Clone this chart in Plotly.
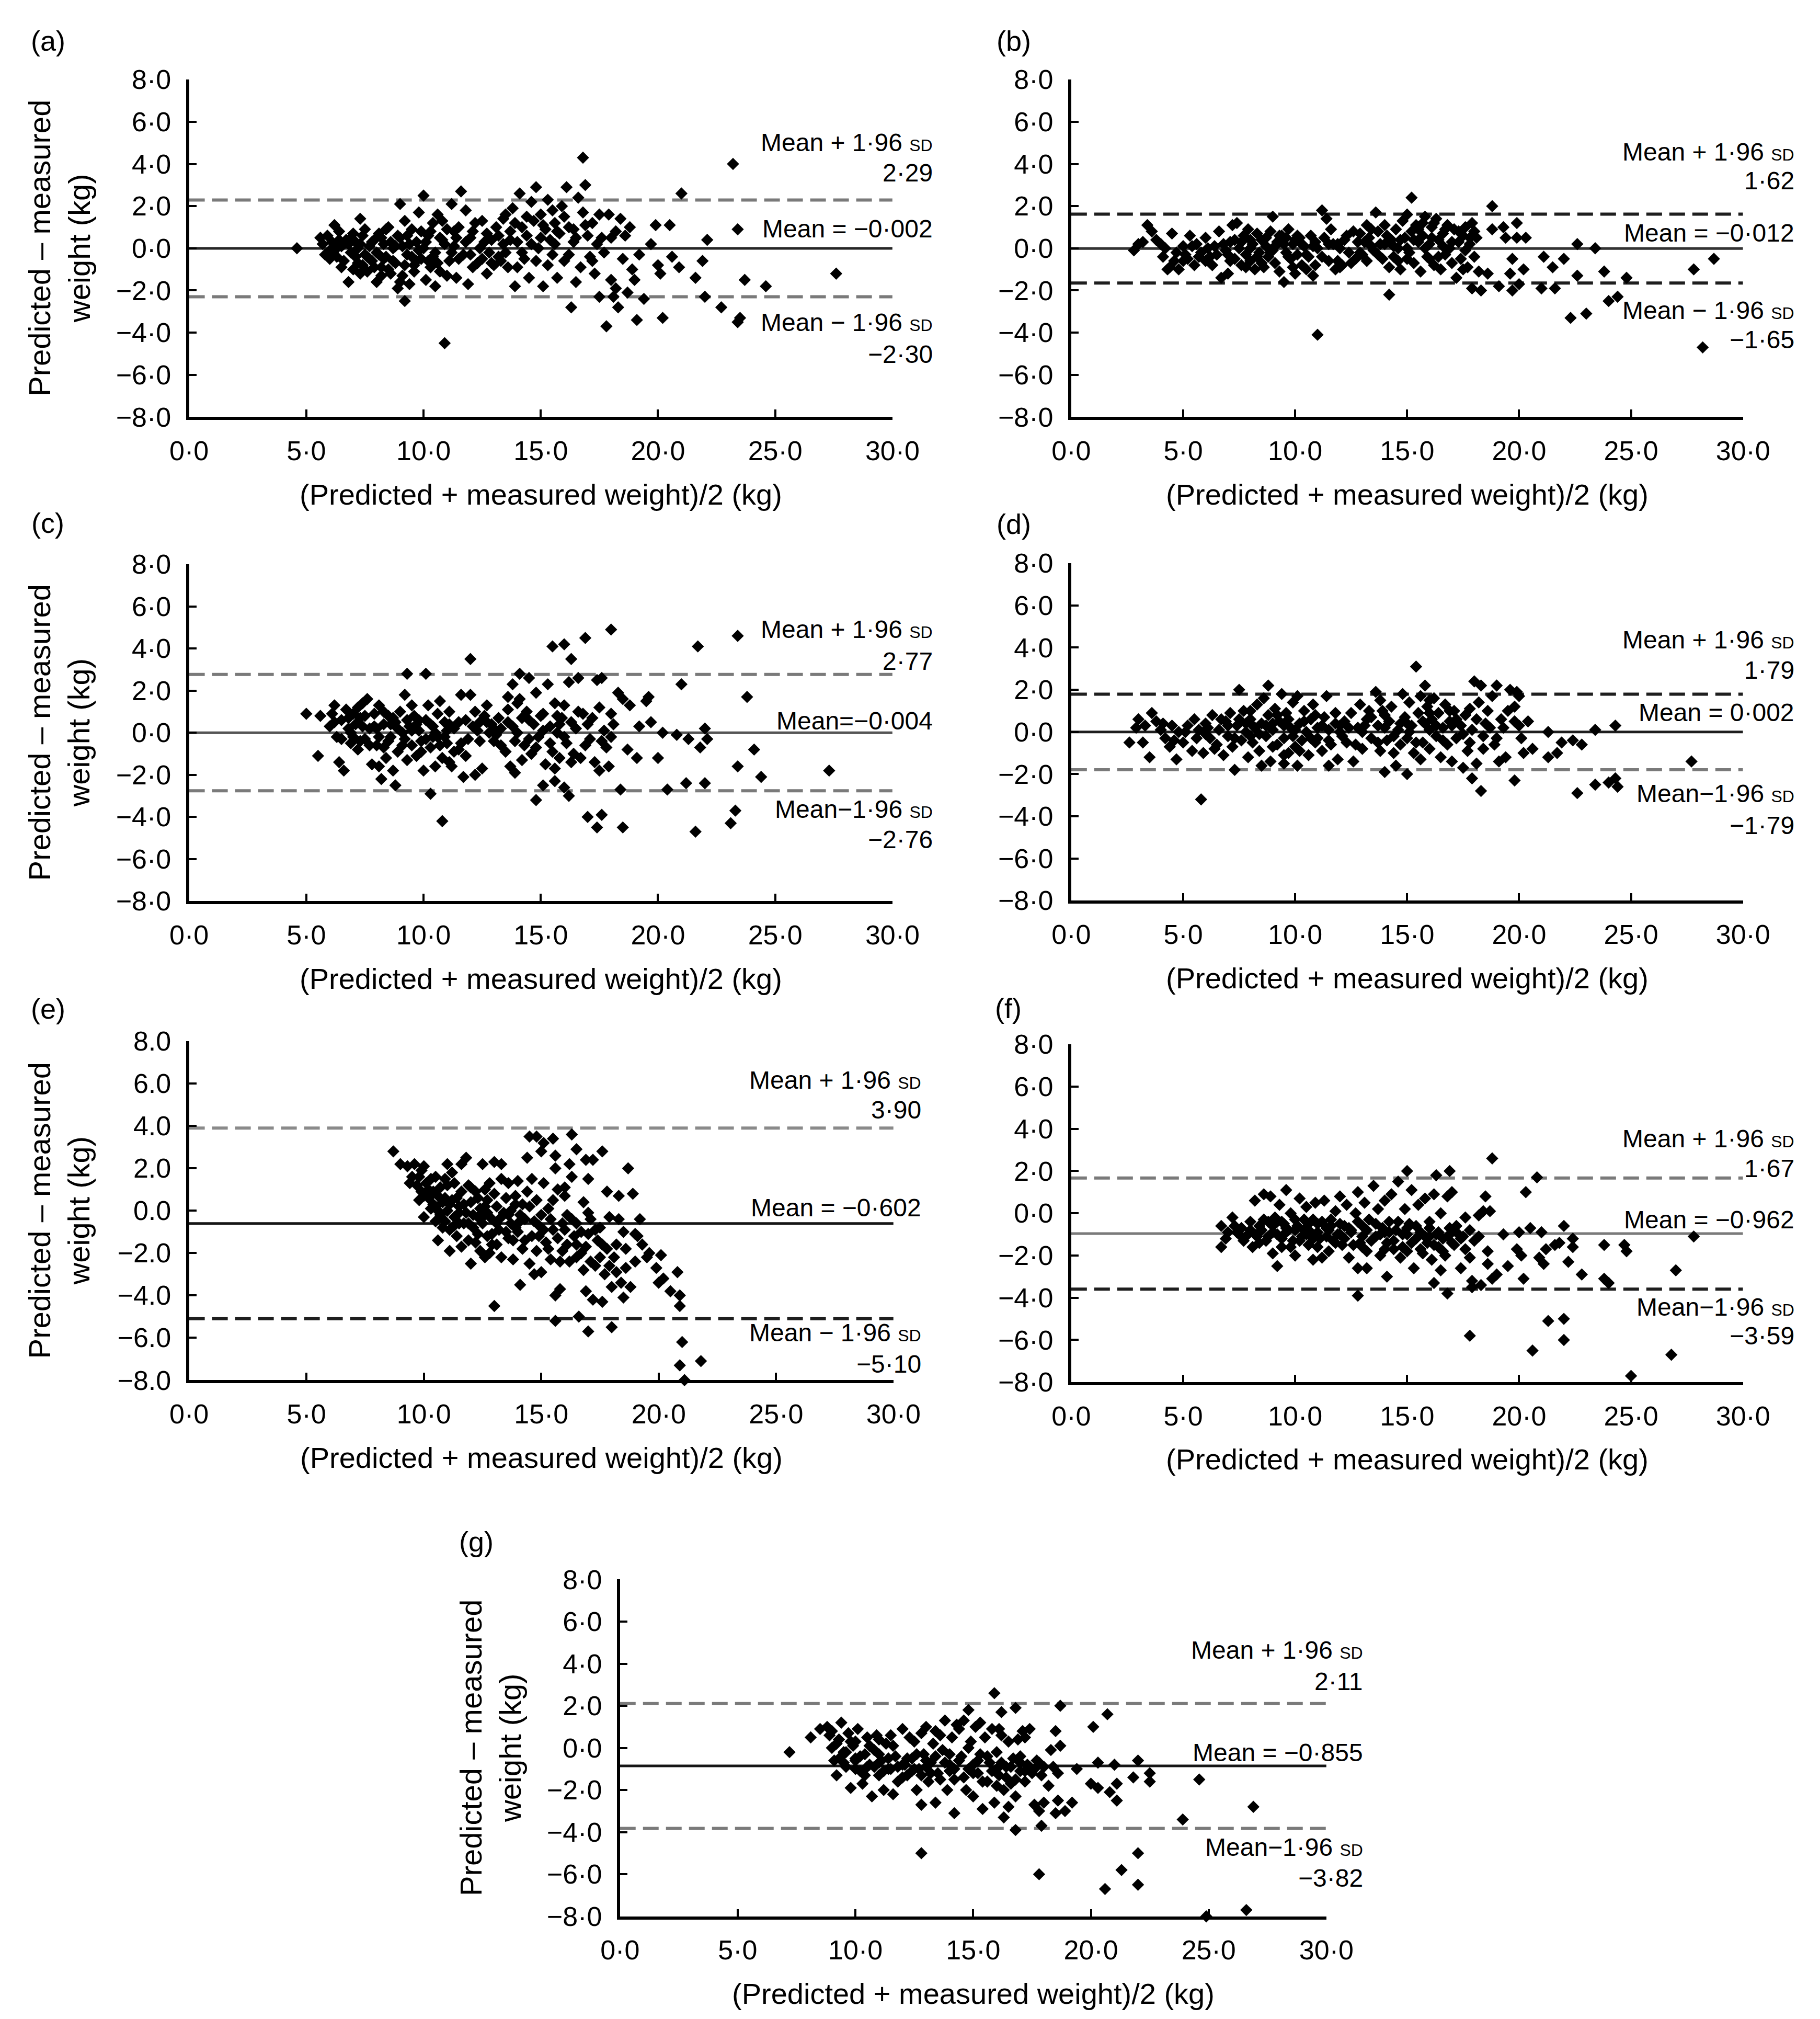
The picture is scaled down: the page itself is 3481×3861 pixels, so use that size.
import plotly.graph_objects as go

W, H = 3481, 3861

# ---------------- data ----------------
PANELS = ["a", "b", "c", "d", "e", "f", "g"]
MEANS = [-0.002, -0.012, -0.004, 0.002, -0.602, -0.962, -0.855]
UPPER = [2.29, 1.62, 2.77, 1.79, 3.90, 1.67, 2.11]
LOWER = [-2.30, -1.65, -2.76, -1.79, -5.10, -3.59, -3.82]
MEAN_TXT = ["Mean = \u22120\u00b7002", "Mean = \u22120\u00b7012", "Mean=\u22120\u00b7004", "Mean = 0\u00b7002",
            "Mean = \u22120\u00b7602", "Mean = \u22120\u00b7962", "Mean = \u22120\u00b7855"]
UP_TXT = ["2\u00b729", "1\u00b762", "2\u00b777", "1\u00b779", "3\u00b790", "1\u00b767", "2\u00b711"]
LO_TXT = ["\u22122\u00b730", "\u22121\u00b765", "\u22122\u00b776", "\u22121\u00b779", "\u22125\u00b710", "\u22123\u00b759", "\u22123\u00b782"]
LO_LABEL = ["Mean \u2212 1\u00b796", "Mean \u2212 1\u00b796", "Mean\u22121\u00b796", "Mean\u22121\u00b796",
            "Mean \u2212 1\u00b796", "Mean\u22121\u00b796", "Mean\u22121\u00b796"]
X_TICKS = [0, 5, 10, 15, 20, 25, 30]
X_TICKTEXT = ["0\u00b70", "5\u00b70", "10\u00b70", "15\u00b70", "20\u00b70", "25\u00b70", "30\u00b70"]
Y_TICKS = [8, 6, 4, 2, 0, -2, -4, -6, -8]
Y_TICKTEXT = ["8\u00b70", "6\u00b70", "4\u00b70", "2\u00b70", "0\u00b70", "\u22122\u00b70", "\u22124\u00b70", "\u22126\u00b70", "\u22128\u00b70"]
Y_TICKTEXT_E = ["8.0", "6.0", "4.0", "2.0", "0.0", "\u22122.0", "\u22124.0", "\u22126.0", "\u22128.0"]

A_PTS = [(4.6,0.0),(5.6,0.5),(5.7,0.2),(5.8,-0.3),(5.9,0.6),(6.0,-0.1),(6.1,0.3),(6.2,1.1),(6.3,-0.4),(6.4,0.8),
(6.5,0.1),(6.0,-0.5),(6.6,-0.6),(6.7,0.4),(6.8,-1.6),(6.9,-0.2),(7.0,-1.0),(7.1,0.3),(7.2,-0.7),(7.3,1.4),
(7.4,0.6),(7.5,-0.3),(7.5,0.9),(7.6,-1.1),(7.7,0.1),(7.8,-0.6),(7.9,0.4),(8.0,-1.6),(8.0,-0.2),(8.1,0.7),
(8.2,-0.9),(8.3,0.2),(8.4,-0.4),(8.5,1.0),(8.6,-1.2),(8.7,0.0),(8.8,-0.7),(8.9,-1.9),(9.0,2.1),(9.0,0.5),
(9.1,-1.3),(9.2,-2.5),(9.2,1.3),(9.3,-0.3),(9.4,-1.7),(9.5,0.9),(9.6,-0.8),(9.7,0.3),(9.8,1.7),(9.9,-0.5),
(10.0,2.5),(10.0,0.0),(10.1,-1.5),(10.2,0.6),(10.3,-0.9),(10.4,1.2),(10.5,-0.2),(10.6,1.6),(10.7,-1.1),(10.8,0.4),
(10.9,-4.5),(11.0,0.9),(11.1,-0.6),(11.2,2.1),(11.3,0.1),(11.4,-1.4),(11.5,1.0),(11.6,2.7),(11.7,-0.3),(11.8,1.8),
(11.9,-1.7),(12.0,0.5),(12.1,-0.9),(12.2,1.2),(12.4,0.0),(12.5,-0.5),(12.7,0.7),(12.8,-0.2),(12.9,0.4),(13.0,-0.8),
(13.1,1.0),(13.2,-0.4),(13.4,0.2),(13.5,1.6),(13.6,-0.9),(13.7,0.8),(13.8,1.9),(13.9,-1.8),(14.0,0.3),(14.1,2.6),
(14.2,1.0),(14.3,-0.5),(14.4,0.6),(14.5,-1.4),(14.6,2.2),(14.7,1.3),(14.8,2.9),(14.9,0.0),(15.0,1.6),(15.1,-1.8),
(15.2,0.9),(15.3,2.3),(15.4,0.4),(15.5,-0.3),(15.6,1.2),(15.7,-1.4),(15.8,0.7),(15.9,2.0),(16.0,-0.6),(16.1,2.9),
(16.2,1.0),(16.3,-2.8),(16.4,0.3),(16.5,-1.6),(16.6,2.4),(16.7,-0.9),(16.8,1.7),(16.8,4.3),(16.9,3.0),(17.0,0.6),
(17.1,-0.4),(17.2,1.2),(17.3,-1.2),(17.5,-2.3),(17.6,0.5),(17.7,-0.2),(17.8,-3.7),(17.9,1.6),(18.0,-1.5),(18.1,-2.3),
(18.2,0.8),(18.3,-2.8),(18.4,1.4),(18.5,-0.5),(18.7,-2.1),(18.8,1.0),(18.9,-1.0),(19.1,-3.4),(19.2,-0.3),(19.4,-2.4),
(19.7,0.2),(19.9,1.1),(20.0,-0.8),(20.1,-1.2),(20.2,-3.3),(20.5,1.1),(20.6,-0.4),(20.9,-0.9),(21.0,2.6),(21.6,-1.4),
(21.9,-0.6),(22.0,-2.3),(22.1,0.4),(22.7,-2.8),(23.2,4.0),(23.4,0.9),(23.4,-3.5),(23.5,-3.3),(23.7,-1.5),(24.6,-1.8),
(27.6,-1.2),(6.3,0.0),(6.8,0.2),(7.2,0.0),(7.8,0.3),(8.3,-0.5),(8.8,0.1),(9.3,0.6),(9.8,-0.1),(10.4,-0.4),
(10.9,0.2),(11.4,0.5),(12.0,-0.3),(12.6,0.3),(7.0,0.7),(8.5,-1.0),(9.6,-1.1),(11.0,-1.3),(6.5,-0.9),(7.6,-0.4),
(10.8,1.3),(13.3,-0.6),(14.2,-0.2),(15.0,0.5),(15.6,0.2),(16.4,0.9),(17.4,0.2),(14.8,-0.6),(13.7,0.4),
(6.1,-0.2),(6.4,0.4),(6.6,0.2),(6.9,0.5),(7.1,-0.4),(7.3,0.2),(7.4,-0.8),(7.7,-0.5),(7.9,-0.9),(8.1,-0.3),
(8.2,0.5),(8.4,0.9),(8.6,0.3),(8.7,-0.6),(8.9,0.6),(9.1,0.1),(9.2,-0.8),(9.4,0.2),(9.5,-0.4),(9.7,-0.6),
(9.9,0.8),(10.1,0.3),(10.2,-0.6),(10.3,0.8),(10.6,-0.7),(10.7,0.5),(11.2,-0.2),(11.3,0.8),(11.5,-0.5),(11.8,0.3),
(12.1,0.8),(12.3,-0.7),(12.5,1.3),(12.9,-0.7),(13.2,0.6),(13.5,-0.2),(13.9,1.2),(14.0,-0.9),(14.4,1.5),(14.6,0.2),
(15.1,1.1),(15.3,-0.8),(15.7,0.8),(16.0,1.5),(16.2,-0.3),(16.5,0.5),(16.9,1.1),(17.2,-0.6),(17.5,1.6),(18.0,0.5),
(18.6,0.6),(19.0,-1.5),(18.2,-1.9),(9.0,-1.6),(8.2,-1.3),(7.3,-1.2),(10.5,-1.8),(12.7,-1.2),(13.4,1.4),(15.5,1.8)]

B_PTS = [(11.0,-4.1),(28.2,-4.7),(28.7,-0.5),(27.8,-1.0),(15.2,2.4),(18.8,2.0),(11.2,1.8),(14.2,-2.2),(22.3,-3.3),(23.0,-3.1),
(24.0,-2.5),(24.4,-2.3),(24.8,-1.4),(23.8,-1.1),(22.6,-1.3),(22.6,0.2),(23.4,0.0),(22.0,-0.5),(21.5,-0.9),(21.1,-0.4),
(21.6,-1.9),(21.0,-1.9),(20.2,-1.0),(20.0,-1.7),(19.7,-2.0),(19.9,0.5),(20.3,0.5),(19.9,1.2),(19.3,1.0),(19.1,-1.8),
(18.3,-2.0),(17.9,-1.9),(18.6,-1.2),(18.8,0.9),(19.7,-0.5),(19.6,-1.2),(19.4,0.5),
(2.8,-0.1),(3.0,0.2),(3.2,0.3),(3.4,1.1),(3.6,0.8),(3.8,0.4),(4.0,0.2),(4.1,-0.4),(4.3,-1.0),(4.5,0.7),
(4.6,-0.6),(4.8,-1.0),(5.0,0.1),(5.1,-0.3),(5.3,0.6),(5.5,-0.8),(5.6,0.2),(5.8,-0.2),(6.0,0.5),(6.2,-0.4),
(6.4,0.1),(6.6,0.8),(6.7,-1.4),(6.9,-0.1),(7.0,-1.2),(7.1,0.3),(7.2,1.1),(7.3,-0.5),(7.4,1.2),(7.5,0.0),
(7.6,-0.8),(7.7,0.6),(7.8,-0.3),(7.9,0.9),(8.0,-0.6),(8.1,0.2),(8.2,-1.0),(8.3,0.7),(8.4,-0.2),(8.5,0.4),
(8.6,-0.9),(8.7,0.1),(8.8,-0.4),(8.9,0.8),(9.0,1.5),(9.1,-0.7),(9.2,0.3),(9.3,-1.1),(9.4,0.6),(9.5,-1.6),
(9.6,-0.2),(9.7,0.9),(9.8,-0.5),(9.9,0.2),(10.0,-1.2),(10.1,-0.3),(10.2,0.5),(10.3,-0.8),(10.4,0.1),(10.5,-1.0),
(10.6,-0.4),(10.8,-1.3),(10.9,0.3),(11.3,0.5),(11.4,1.4),(11.5,-0.6),(11.6,0.9),(11.8,-1.0),(11.9,0.2),(12.1,-0.8),
(12.2,0.4),(12.4,-0.2),(12.6,0.8),(12.8,0.3),(13.0,-0.3),(13.2,1.1),(13.3,0.5),(13.5,-0.1),(13.6,1.7),(13.7,0.8),
(13.8,0.2),(13.9,-0.5),(14.0,1.1),(14.2,-0.9),(14.3,0.4),(14.4,-0.4),(14.5,0.9),(14.6,0.0),(14.7,-1.0),(14.8,1.3),
(14.9,0.5),(15.0,1.6),(15.1,-0.2),(15.2,0.8),(15.3,-0.7),(15.4,1.1),(15.5,0.3),(15.6,-1.1),(15.7,0.6),(15.8,1.5),
(15.9,-0.4),(16.0,0.2),(16.1,1.0),(16.2,-0.8),(16.3,1.4),(16.4,0.4),(16.5,-1.0),(16.6,0.7),(16.7,-0.3),(16.8,1.1),
(16.9,0.0),(17.0,-0.7),(17.1,0.9),(17.2,-1.4),(17.3,0.3),(17.4,-0.5),(17.5,0.6),(17.6,1.0),(17.7,-0.9),(17.8,0.2),
(17.9,1.2),(18.0,-0.4),(18.1,0.5),(18.2,-1.1),(17.6,-0.1),(16.0,-0.5),(15.0,0.0),(14.0,0.2),(12.0,0.0),(11.0,0.0),
(10.7,0.6),(9.0,-0.1),(8.0,0.0),(7.0,-0.3),(6.0,-0.6),(5.0,-0.6),(4.4,-0.9),(12.7,-0.5),(13.4,0.1),(15.6,0.5),
(16.6,0.1),(11.7,0.2),(10.0,0.4),(12.9,0.7),
(4.2,0.0),(4.7,-0.2),(5.2,-0.5),(5.4,0.1),(5.7,-0.4),(6.1,0.0),(6.3,-0.8),(6.5,-0.3),(6.8,0.2),(7.1,-0.6),
(7.3,0.4),(7.6,0.3),(7.8,-0.9),(8.0,0.4),(8.3,-0.4),(8.5,-0.7),(8.7,0.5),(8.9,-0.2),(9.1,0.1),(9.3,0.6),
(9.5,0.2),(9.7,-0.4),(9.9,-0.9),(10.1,0.6),(10.3,0.2),(10.5,-0.3),(10.8,0.1),(11.2,-0.4),(11.5,0.2),(11.9,-0.6),
(12.3,0.6),(12.5,-0.7),(12.9,-0.2),(13.1,0.3),(13.4,0.9),(13.7,-0.3),(14.1,0.6),(14.4,0.1),(14.7,0.4),(15.0,-0.5),
(15.3,0.4),(15.5,0.9),(15.8,0.0),(16.1,0.5),(16.4,-0.4),(16.7,0.9),(17.0,0.3),(17.3,0.8),(17.5,-1.0),(17.8,0.5),
(18.0,0.8),(16.2,1.2),(15.7,1.2),(14.6,-0.6),(13.2,-0.6),(12.0,-0.9),(10.9,-0.8),(9.6,0.5)]

C_PTS = [(12.0,3.5),(9.3,2.8),(10.1,2.8),(15.5,4.1),(16.0,4.2),(16.3,3.5),(16.9,4.5),(18.0,4.9),(23.4,4.6),(21.7,4.1),
(21.0,2.3),(23.8,1.7),(14.1,2.8),(16.6,2.6),(17.6,2.6),(17.4,2.5),(8.8,-2.5),(10.3,-2.9),(10.8,-4.2),(14.8,-3.2),
(15.1,-2.5),(15.6,-2.3),(16.0,-2.6),(16.2,-3.0),(17.0,-4.0),(17.4,-4.5),(17.6,-3.9),(18.5,-4.5),(18.4,-2.7),(20.4,-2.7),
(21.2,-2.4),(22.0,-2.4),(21.6,-4.7),(23.1,-4.3),(23.3,-3.7),(23.4,-1.6),(24.4,-2.1),(27.3,-1.8),(24.1,-0.8),(22.0,0.2),
(22.1,-0.3),(21.8,-0.7),(21.3,-0.3),(20.8,-0.1),(20.2,0.0),(20.0,-1.2),(19.7,0.5),(19.6,1.7),(19.5,1.5),(19.1,-1.2),
(19.2,0.3),(18.7,-0.8),(18.8,1.3),(18.5,1.6),(18.3,1.9),(18.1,0.4),(17.9,-1.6),(17.5,-1.8),
(5.0,0.9),(5.5,-1.1),(5.6,0.8),(6.0,0.3),(6.1,0.9),(6.2,1.3),(6.3,-0.2),(6.4,-1.4),(6.5,0.6),(6.6,-1.8),
(6.7,1.1),(6.8,0.2),(6.9,-0.5),(7.0,0.9),(7.1,0.4),(7.2,-0.8),(7.3,0.7),(7.4,1.4),(7.5,-0.3),(7.6,1.6),
(7.7,0.2),(7.8,-1.5),(7.9,0.9),(8.0,-0.6),(8.1,1.3),(8.2,-2.2),(8.3,0.4),(8.4,-1.2),(8.5,0.8),(8.6,-0.2),
(8.7,-1.8),(8.8,0.5),(8.9,-0.9),(9.0,1.0),(9.1,0.0),(9.2,1.8),(9.3,-1.3),(9.4,0.3),(9.5,-0.6),(9.6,0.8),
(9.7,-1.1),(9.8,0.1),(9.9,-0.4),(10.0,-1.8),(10.1,0.6),(10.2,1.3),(10.3,-0.7),(10.4,0.3),(10.5,-1.6),(10.6,-0.2),
(10.7,1.5),(10.8,-1.2),(10.9,0.5),(11.0,-0.5),(11.1,1.0),(11.2,-1.6),(11.3,0.2),(11.5,-0.8),(11.6,1.8),(11.7,-2.1),
(11.8,0.6),(11.9,-0.3),(12.0,1.8),(12.2,-2.0),(12.3,0.1),(12.5,-1.7),(12.6,0.8),(12.7,1.3),(12.9,0.4),(13.0,-0.4),
(13.2,0.7),(13.3,0.2),(13.5,-0.9),(13.6,1.7),(13.7,-1.6),(13.8,2.3),(13.9,-1.9),(14.0,0.0),(14.1,1.6),(14.2,0.7),
(14.3,-0.6),(14.4,1.0),(14.5,2.6),(14.6,-1.0),(14.7,0.4),(14.8,1.9),(14.9,-0.2),(15.0,0.8),(15.2,-1.5),(15.3,2.3),
(15.4,0.3),(15.5,-0.9),(15.6,1.4),(15.7,0.0),(15.8,-1.2),(15.9,0.7),(16.0,1.3),(16.1,-0.5),(16.2,2.4),(16.4,-1.0),
(16.5,0.2),(16.7,-1.2),(16.8,0.9),(17.0,0.4),(17.1,-0.3),(17.3,-1.4),(17.5,1.2),(17.7,0.1),(17.8,-0.7),(18.0,0.9),
(6.9,0.0),(7.4,0.3),(8.0,0.2),(8.6,0.4),(9.2,-0.3),(9.8,0.6),(10.4,-0.2),(11.0,0.1),(11.6,-0.5),(12.4,0.5),
(13.1,-0.1),(13.8,0.3),(14.5,-0.3),(15.1,0.1),(16.3,0.5),(7.3,-0.4),(8.3,-0.7),(10.6,0.9),(12.8,0.0),(15.8,0.4),
(6.2,0.5),(6.5,-0.3),(6.8,0.7),(7.0,-0.2),(7.2,0.5),(7.5,0.8),(7.7,-0.6),(7.9,0.3),(8.1,-0.2),(8.3,1.0),
(8.5,-0.4),(8.7,0.7),(8.9,0.2),(9.1,-0.6),(9.3,0.6),(9.5,0.1),(9.7,0.4),(9.9,-0.9),(10.1,-0.3),(10.3,0.4),
(10.5,0.0),(10.7,-0.6),(10.9,-0.2),(11.1,0.4),(11.3,-0.9),(11.5,0.5),(11.8,-1.1),(12.1,0.3),(12.4,-0.4),(12.7,0.5),
(13.0,0.2),(13.3,-0.6),(13.6,0.5),(13.9,-0.4),(14.2,-1.3),(14.5,0.6),(14.8,-0.7),(15.1,0.9),(15.4,-0.5),(15.7,0.8),
(16.0,-0.2),(16.3,-1.4),(16.6,1.0),(16.9,-0.6),(17.2,0.7),(17.6,-0.4),(18.0,-0.2),(13.6,1.1),(12.2,1.0),(14.0,1.4),
(15.6,-1.7),(11.1,-1.4),(9.5,1.3),(8.1,-1.6),(7.2,1.2)]

D_PTS = [(5.8,-3.2),(15.4,3.1),(18.0,2.4),(18.3,2.2),(19.0,2.2),(19.6,2.0),(19.9,1.9),(20.0,1.7),(8.8,2.2),(7.5,2.0),
(15.8,2.2),(18.3,-2.8),(17.9,-2.2),(19.8,-2.3),(22.6,-2.9),(23.4,-2.5),(24.0,-2.4),(24.3,-2.2),(24.4,-2.6),(27.7,-1.4),
(24.3,0.3),(23.4,0.1),(22.8,-0.6),(22.4,-0.4),(21.9,-0.5),(21.7,-1.0),(21.3,-1.2),(21.3,0.0),(20.6,-0.8),(20.4,0.5),
(20.2,-1.0),(20.0,0.3),(19.8,1.2),(19.4,-1.2),(19.1,-1.4),(18.9,-0.6),(18.6,1.0),(18.4,-0.8),(14.0,-1.9),(15.0,-2.0),
(14.5,-1.6),(7.3,-1.8),(10.1,-1.6),(9.5,-1.5),(8.5,-1.6),(11.5,-1.6),
(2.6,-0.5),(2.9,0.2),(3.0,0.6),(3.2,-0.5),(3.3,0.3),(3.5,-1.2),(3.6,0.9),(3.8,0.5),(4.0,0.1),(4.2,-0.3),
(4.4,-0.7),(4.5,0.3),(4.7,-1.3),(4.8,0.0),(5.0,-0.5),(5.2,0.3),(5.4,-0.9),(5.5,0.6),(5.7,0.1),(5.9,-1.0),
(6.0,0.4),(6.2,-0.3),(6.3,0.8),(6.5,-0.6),(6.6,0.1),(6.8,-1.1),(6.9,0.5),(7.0,-0.2),(7.1,0.9),(7.2,-0.7),
(7.4,0.3),(7.6,-0.4),(7.7,1.0),(7.8,0.0),(7.9,-1.2),(8.0,0.6),(8.1,-0.5),(8.2,0.2),(8.3,1.3),(8.4,-0.9),
(8.5,0.4),(8.6,1.6),(8.7,-0.2),(8.8,0.8),(8.9,-1.4),(9.0,0.1),(9.1,1.1),(9.2,-0.6),(9.3,0.5),(9.4,1.8),
(9.5,-0.3),(9.6,0.9),(9.7,-1.0),(9.8,0.2),(9.9,1.4),(10.0,-0.7),(10.1,1.7),(10.2,0.4),(10.3,-0.4),(10.4,1.0),
(10.5,0.0),(10.6,-1.1),(10.7,0.6),(10.8,1.3),(10.9,-0.5),(11.0,0.2),(11.2,-0.9),(11.3,0.7),(11.4,1.7),(11.5,0.1),
(11.6,-0.6),(11.8,0.4),(11.9,-1.3),(12.0,0.0),(12.2,0.5),(12.3,-0.5),(12.5,0.9),(12.6,-1.4),(12.8,0.2),(12.9,1.3),
(13.0,-0.8),(13.2,0.6),(13.3,1.0),(13.4,-0.3),(13.6,1.9),(13.7,0.3),(13.8,-0.9),(13.9,1.0),(14.1,-0.4),(14.2,0.5),
(14.3,1.2),(14.4,-1.0),(14.6,0.1),(14.7,-0.6),(14.8,1.8),(14.9,0.7),(15.0,-0.3),(15.1,1.4),(15.2,0.3),(15.3,-1.0),
(15.5,0.9),(15.6,1.7),(15.7,-0.5),(15.8,0.4),(15.9,1.2),(16.0,-0.8),(16.1,0.6),(16.2,1.6),(16.3,-0.2),(16.4,0.9),
(16.5,-1.2),(16.6,0.2),(16.7,1.3),(16.8,-0.6),(16.9,0.5),(17.0,-1.4),(17.1,1.0),(17.2,-0.3),(17.4,0.3),(17.5,-1.7),
(17.6,0.8),(17.7,-0.9),(17.8,1.1),(17.9,0.1),(18.1,-1.5),(18.2,1.4),(18.5,0.4),(18.8,1.7),(19.2,0.6),(19.5,1.0),
(19.8,0.5),(20.1,-0.3),(6.0,-0.1),(7.0,0.3),(8.0,-0.2),(9.0,0.4),(10.0,0.1),(11.0,-0.3),(12.0,0.3),(13.0,0.0),
(14.0,0.2),(15.0,0.4),(16.0,0.1),(17.0,0.3),
(4.1,0.4),(4.6,-0.4),(5.1,0.0),(5.6,-0.3),(6.1,0.2),(6.4,-0.8),(6.7,0.6),(7.3,-0.3),(7.5,0.6),(7.8,0.4),
(8.1,0.3),(8.4,-0.1),(8.7,0.3),(9.0,-0.7),(9.2,0.8),(9.5,0.3),(9.7,0.6),(9.9,-0.2),(10.2,-0.9),(10.4,0.5),
(10.7,-0.3),(10.9,0.8),(11.2,0.3),(11.5,-0.4),(11.8,0.9),(12.1,-0.2),(12.4,0.2),(12.7,-0.6),(13.1,0.3),(13.4,0.7),
(13.7,-0.5),(14.0,0.8),(14.4,-0.2),(14.7,0.4),(15.1,0.0),(15.4,-0.5),(15.7,0.5),(16.0,0.9),(16.3,0.3),(16.6,-0.4),
(16.9,1.0),(17.2,0.6),(17.5,-0.1),(17.8,-0.5),(18.1,0.6),(18.4,-0.2),(18.7,0.2),(19.0,-0.3),(19.3,0.2),(16.0,1.5),
(15.6,-1.3),(13.8,1.5),(9.5,-1.1),(8.0,1.0)]

E_PTS = [(8.7,2.8),(9.0,2.2),(9.3,2.1),(9.6,2.2),(9.5,1.6),(9.9,1.9),(10.0,2.1),(10.3,1.5),(11.0,2.2),(11.2,1.8),
(11.6,2.2),(11.8,2.5),(12.5,2.2),(13.0,2.3),(13.3,2.2),(14.4,2.5),(14.5,3.5),(14.8,3.5),(15.1,3.2),(15.0,2.8),
(15.5,3.4),(15.6,2.6),(16.3,3.6),(16.5,2.9),(16.9,2.4),(17.2,2.4),(17.6,2.8),(18.7,2.0),(16.2,2.2),(14.0,1.4),
(13.6,1.3),(12.8,1.3),(12.3,0.6),(11.9,1.2),(11.6,0.9),
(9.7,1.2),(9.9,0.9),(10.1,1.3),(10.2,0.6),(10.4,0.9),(10.5,0.2),(10.6,0.7),(10.7,-0.2),(10.8,0.4),(10.9,-0.5),
(11.0,0.0),(11.1,-0.9),(11.2,0.5),(11.3,-0.3),(11.4,-1.2),(11.5,0.2),(11.6,-1.7),(11.7,-0.6),(11.8,-0.1),(11.9,-1.4),
(12.0,0.4),(12.1,-0.8),(12.2,-1.5),(12.3,-0.3),(12.4,-1.9),(12.5,-0.6),(12.6,0.2),(12.7,-1.2),(12.8,-2.0),(12.9,-0.4),
(13.0,0.8),(13.1,-1.6),(13.2,-0.9),(13.3,-2.2),(13.4,-0.1),(13.5,0.6),(13.6,-1.3),(13.7,-0.6),(13.8,-2.3),(13.9,0.3),
(14.0,-1.0),(14.1,-3.5),(14.2,-1.8),(14.3,-0.4),(14.4,0.9),(14.5,-2.5),(14.6,-1.2),(14.7,-3.0),(14.8,0.5),(14.9,-0.7),
(15.0,-2.9),(15.1,1.3),(15.2,-1.5),(15.3,0.1),(15.4,-2.3),(15.5,-0.9),(15.6,-5.2),(15.6,-4.0),(15.7,1.0),(15.8,-3.7),
(15.9,-1.9),(16.0,0.7),(16.1,-0.2),(16.2,-2.4),(16.3,1.6),(16.4,-1.2),(16.5,-0.6),(16.6,-5.0),(16.7,-2.0),(16.8,0.4),
(16.9,-3.8),(17.0,-5.7),(17.0,-1.1),(17.1,-0.4),(17.2,-4.2),(17.3,-2.6),(17.4,-1.4),(17.5,-0.8),(17.6,-4.3),(17.7,-3.0),
(17.8,-1.8),(17.9,-0.3),(18.0,-5.5),(18.1,-2.2),(18.2,-1.6),(18.3,0.7),(18.4,-3.4),(18.5,-4.1),(18.6,-2.7),(18.8,-3.6),
(18.9,0.8),(19.0,-1.1),(19.1,-1.2),(19.2,-0.4),(19.6,-2.0),(19.9,-2.7),(20.1,-2.1),(20.0,-3.4),(20.2,-3.2),(20.5,-3.8),
(20.8,-2.9),(20.9,-4.0),(20.9,-4.5),(21.0,-6.2),(20.9,-7.3),(21.1,-8.0),(21.8,-7.1),(10.0,-0.3),(10.6,-1.4),(11.1,-1.9),
(12.6,-2.2),(12.0,-2.5),(13.0,-4.5),(10.3,0.1),(10.8,-0.8),(11.4,0.6),(12.2,0.9),(13.6,-0.2),(14.2,0.3),(15.0,-0.2),
(16.0,-0.9),(17.0,-0.1),(12.4,0.1),(13.1,0.2),(9.8,0.5),(10.5,-0.5),(11.5,-0.6),(12.7,-0.1),(14.0,-0.6),(15.4,-0.4),
(16.5,-1.6),(17.5,-2.2),(18.5,-1.0),(14.6,1.5),(15.6,2.0),(16.0,1.1),(17.0,1.5),(17.8,0.9),(18.3,-0.4),(13.3,1.5),
(12.0,1.1),(11.0,1.2),(13.8,-1.4),(14.8,-1.9),(15.8,-2.4),(16.8,-2.8),(19.5,-2.2),(12.9,-1.1),(18.0,-3.6),(19.3,-1.6),
(10.0,0.7),(10.2,1.0),(10.4,0.3),(10.6,0.0),(10.7,1.1),(10.9,0.6),(11.1,0.3),(11.3,-0.7),(11.5,-0.1),(11.7,0.3),
(11.9,-0.6),(12.1,-0.2),(12.3,-1.1),(12.5,-0.3),(12.7,0.5),(12.9,-1.6),(13.1,-0.6),(13.3,-0.3),(13.5,-1.0),(13.7,0.0),
(13.9,-0.8),(14.1,-0.2),(14.3,-1.4),(14.5,0.2),(14.7,-0.5),(14.9,-1.2),(15.1,-0.9),(15.3,-1.8),(15.5,0.5),(15.7,-1.3),
(15.9,-0.6),(16.1,-1.6),(16.3,-0.4),(16.5,-2.2),(16.7,-1.0),(16.9,-1.7),(17.1,-2.4),(17.3,-0.9),(17.6,-1.6),(17.9,-2.6),
(18.2,-2.9),(18.6,-1.8),(19.0,-2.4),(9.4,1.3),(9.8,1.6),(10.5,1.6),(10.9,1.5),(11.3,1.3),(12.6,1.0),(13.9,0.7)]

F_PTS = [(18.8,2.6),(20.8,1.7),(20.3,1.0),(16.9,2.0),(15.0,2.0),(16.3,1.8),(17.8,-5.8),(20.6,-6.5),(21.3,-5.1),(22.0,-5.0),
(22.0,-6.0),(25.0,-7.7),(26.8,-6.7),(27.0,-2.7),(27.8,-1.1),(24.7,-1.5),(24.8,-1.8),(23.8,-1.5),(23.8,-3.1),(24.0,-3.3),
(22.8,-2.9),(22.4,-1.2),(22.4,-1.6),(22.0,-0.6),(22.2,-2.3),(21.8,-1.4),(21.6,-1.5),(21.2,-1.7),(21.0,-0.9),(20.9,-2.1),
(21.1,-2.4),(20.5,-0.7),(20.2,-3.1),(19.9,-1.7),(20.1,-2.0),(20.0,-0.9),(19.5,-2.5),(19.3,-1.0),(19.0,-2.9),(18.8,-3.1),
(18.6,-2.4),(18.3,-3.4),(17.9,-3.5),(17.9,-3.2),(16.8,-3.8),(12.8,-3.9),(14.1,-3.0),(16.2,-3.3),(16.5,-2.7),(13.2,-2.6),
(12.8,-2.6),(9.2,-2.5),
(6.7,-0.6),(6.7,-1.6),(6.9,-1.2),(7.2,-0.2),(7.4,-0.9),(7.6,-0.7),(7.8,-1.1),(8.0,-0.8),(8.1,-1.6),(8.2,0.6),
(8.4,-0.6),(8.6,0.9),(8.7,-1.3),(8.8,-0.4),(8.9,0.8),(9.0,-1.9),(9.1,-0.2),(9.2,-1.0),(9.3,0.4),(9.4,-1.6),
(9.5,-0.5),(9.6,1.1),(9.7,-0.8),(9.8,0.0),(9.9,-1.3),(10.0,-2.0),(10.1,-0.6),(10.2,0.7),(10.3,-1.1),(10.4,-0.3),
(10.5,0.3),(10.6,-1.5),(10.7,-0.9),(10.8,-2.2),(10.9,0.5),(11.0,-0.5),(11.1,-1.2),(11.2,-2.1),(11.3,0.6),(11.4,-0.7),
(11.5,-1.8),(11.6,-0.3),(11.8,0.1),(11.9,-1.0),(12.0,0.8),(12.1,-1.5),(12.2,-0.6),(12.3,0.4),(12.4,-2.1),(12.5,-0.9),
(12.7,0.0),(12.8,1.0),(12.9,-1.4),(13.0,-0.6),(13.1,0.5),(13.2,-1.8),(13.3,-0.3),(13.5,1.3),(13.6,-1.1),(13.7,0.2),
(13.8,-2.0),(13.9,-0.7),(14.0,0.6),(14.1,-1.4),(14.2,-0.4),(14.3,0.9),(14.4,-1.7),(14.5,-0.8),(14.6,1.5),(14.7,-2.1),
(14.8,-1.0),(14.9,0.2),(15.0,-1.8),(15.1,-0.5),(15.2,1.1),(15.3,-2.6),(15.4,-1.2),(15.5,0.4),(15.6,-0.9),(15.7,-1.9),
(15.8,0.7),(15.9,-1.4),(16.0,-0.4),(16.1,-2.2),(16.2,0.9),(16.3,-1.0),(16.4,-1.6),(16.5,0.0),(16.6,-1.2),(16.7,-2.0),
(16.8,0.8),(16.9,-0.7),(17.0,1.0),(17.1,-1.5),(17.2,-0.9),(17.4,-2.6),(17.5,-1.1),(17.6,-0.2),(17.8,-2.1),(18.0,-1.3),
(18.2,-0.1),(18.4,0.1),(18.5,0.8),(18.6,-1.8),(18.7,0.1),(8.5,-0.8),(9.0,-0.9),(9.5,-1.0),(10.0,-0.8),(10.5,-1.0),
(11.0,-0.9),(11.5,-0.8),(12.0,-1.0),(12.5,-0.8),(13.0,-1.1),(14.0,-0.9),(15.0,-1.0),(16.0,-1.1),(17.0,-0.9),(7.5,-1.0),
(9.4,-0.4),(10.8,-0.3),(8.3,-1.1),(11.7,-1.3),
(7.0,-0.9),(7.3,-0.6),(7.7,-1.3),(8.0,-0.4),(8.2,-1.0),(8.4,-1.4),(8.6,-0.3),(8.8,-1.1),(9.0,-0.6),(9.2,-0.4),
(9.4,-1.2),(9.6,-0.7),(9.8,-1.6),(10.0,-0.3),(10.2,-1.3),(10.4,-0.8),(10.6,-0.5),(10.8,-1.2),(11.0,-1.6),(11.2,-0.4),
(11.4,-1.1),(11.6,-0.6),(11.8,-1.4),(12.0,-0.5),(12.2,-1.2),(12.4,-0.7),(12.6,-1.5),(12.8,-0.4),(13.0,-1.6),(13.2,-0.8),
(13.4,-1.3),(13.6,-0.5),(13.8,-1.0),(14.0,-1.7),(14.2,-0.9),(14.4,-1.3),(14.6,-0.4),(14.8,-1.6),(15.0,-0.7),(15.2,-1.4),
(15.4,-0.6),(15.6,-1.7),(15.8,-1.1),(16.0,-0.7),(16.2,-1.5),(16.4,-0.9),(16.6,-1.8),(16.8,-1.1),(17.0,-1.4),(17.2,-0.6),
(17.4,-1.2),(17.6,-1.7),(17.8,-0.8),(18.2,-1.1)]

G_PTS = [(7.2,-0.2),(8.1,0.5),(15.9,2.6),(16.8,1.9),(18.7,2.0),(20.7,1.6),(20.1,1.0),(14.8,1.8),(16.2,1.7),(12.8,-5.0),
(17.8,-6.0),(20.6,-6.7),(21.3,-5.8),(22.0,-5.0),(22.0,-6.5),(24.9,-8.0),(26.6,-7.7),(26.9,-2.8),(24.6,-1.5),(23.9,-3.4),
(22.5,-1.2),(22.5,-1.6),(22.0,-0.6),(21.8,-1.4),(21.1,-1.7),(21.0,-0.8),(21.1,-2.5),(20.8,-2.1),(20.3,-1.9),(20.3,-0.7),
(20.0,-1.7),(19.4,-1.0),(19.2,-2.6),(18.6,-2.5),(18.5,-3.1),(18.9,-3.0),(18.0,-2.6),(17.9,-3.7),(17.8,-3.0),(17.6,-2.7),
(16.8,-3.9),(16.3,-3.3),(16.5,-2.8),(14.2,-3.1),(13.4,-2.6),(12.8,-2.7),(18.3,-0.1),(18.5,0.8),(18.7,0.1),(17.4,0.9),
(8.5,0.9),(8.8,1.0),(9.0,0.0),(9.1,-0.6),(9.2,-1.3),(9.3,0.4),(9.4,1.2),(9.5,-0.2),(9.6,-0.9),(9.7,0.7),
(9.8,-1.9),(9.9,0.1),(10.0,-0.5),(10.1,0.9),(10.2,-1.1),(10.3,-1.7),(10.4,-0.3),(10.5,0.5),(10.6,-0.8),(10.7,-2.3),
(10.8,-0.1),(10.9,0.6),(11.0,-1.3),(11.1,-0.6),(11.2,-2.0),(11.3,0.2),(11.4,-1.0),(11.5,0.6),(11.6,-2.2),(11.7,-0.4),
(11.8,-1.6),(12.0,0.9),(12.1,-0.8),(12.2,-1.3),(12.4,-0.5),(12.5,0.3),(12.6,-2.0),(12.7,-1.0),(12.8,0.7),(12.9,-0.3),
(13.0,1.0),(13.1,-1.6),(13.2,-0.7),(13.3,0.2),(13.5,-1.2),(13.6,0.6),(13.7,-0.1),(13.8,1.3),(13.9,-2.0),(14.0,-0.8),
(14.1,0.5),(14.2,-1.5),(14.4,0.9),(14.5,-0.4),(14.6,1.3),(14.7,-2.0),(14.8,-1.0),(14.9,0.3),(15.0,-2.3),(15.1,1.0),
(15.2,-1.2),(15.3,-0.3),(15.4,-2.9),(15.5,0.5),(15.6,-1.6),(15.7,-0.7),(15.8,0.9),(15.9,-2.6),(16.0,-0.2),(16.1,-1.3),
(16.2,0.6),(16.3,-2.0),(16.4,-0.9),(16.5,0.3),(16.6,-1.7),(16.7,-0.5),(16.8,-2.3),(16.9,0.4),(17.0,-1.1),(17.1,0.8),
(17.2,-1.6),(17.3,-0.8),(17.5,-1.2),(17.7,-0.6),(17.9,-1.3),(18.0,-0.9),(18.2,-1.8),(18.4,-0.9),(18.6,-1.2),(9.5,-0.7),
(10.0,-0.6),(10.5,-0.9),(11.0,-0.7),(11.5,-1.0),(12.0,-0.8),(12.5,-1.0),(13.0,-0.9),(14.0,-1.1),(15.0,-0.8),(16.0,-1.0),
(17.0,-0.7),(9.0,0.8),(10.0,0.3),(11.0,0.4),(12.3,0.5),(13.4,0.8),(14.3,1.1),(15.3,1.2),(16.1,0.9),(17.2,0.5),
(8.9,0.6),(9.2,0.2),(9.4,-0.4),(9.6,-0.2),(9.8,0.3),(10.0,-1.0),(10.2,-0.4),(10.4,-1.3),(10.6,0.1),(10.8,-0.9),
(11.0,-0.3),(11.2,-1.1),(11.4,-0.5),(11.6,0.1),(11.8,-0.9),(12.0,-1.4),(12.2,-0.5),(12.4,-1.1),(12.6,-0.3),(12.8,-1.3),
(13.0,-0.6),(13.2,-1.2),(13.4,-0.4),(13.6,-1.5),(13.8,-0.7),(14.0,-0.3),(14.2,-1.0),(14.4,-0.6),(14.6,-1.4),(14.8,0.0),
(15.0,-1.2),(15.2,-0.6),(15.4,-1.6),(15.6,-0.4),(15.8,-1.1),(16.0,-1.8),(16.2,-0.7),(16.4,-1.4),(16.6,-0.9),(16.8,-1.5),
(17.0,-0.4),(17.2,-1.1),(17.4,-0.9),(17.6,-1.0),(17.8,-0.7)]

POINTS = [A_PTS, B_PTS, C_PTS, D_PTS, E_PTS, F_PTS, G_PTS]

# ---------------- layout / style ----------------
# plot boxes in page pixels: left, right, top, bottom
BOX = [(324, 1705, 117, 772), (2056, 3375, 117, 772),
       (324, 1705, 1058, 1712), (2056, 3375, 1056, 1711),
       (324, 1707, 1984, 2642), (2056, 3375, 1990, 2646),
       (1170, 2557, 3029, 3683)]
TEXT_RIGHT = [1786, 3478, 1786, 3478, 1764, 3478, 2631]
LABEL_POS = [(47, 42), (1943, 42), (47, 978), (1943, 980), (47, 1921), (1932, 1920), (888, 2955)]
# y positions (data units) of: upper label, upper value, mean label, lower label, lower value
ANN_Y = [(5.02, 3.58, 0.93, -3.52, -5.02), (4.57, 3.2, 0.73, -2.94, -4.33),
         (4.91, 3.4, 0.57, -3.64, -5.08), (4.36, 2.92, 0.93, -2.93, -4.43),
         (6.16, 4.75, 0.15, -5.76, -7.25), (3.54, 2.12, -0.30, -4.45, -5.80),
         (4.65, 3.15, -0.23, -4.72, -6.19)]
UP_COL = ["#7a7a7a", "#1e1e1e", "#7a7a7a", "#1e1e1e", "#8a8a8a", "#7a7a7a", "#7a7a7a"]
MEAN_COL = ["#262626", "#333333", "#555555", "#1e1e1e", "#151515", "#7a7a7a", "#151515"]
LO_COL = ["#7a7a7a", "#1e1e1e", "#7a7a7a", "#7a7a7a", "#1e1e1e", "#1e1e1e", "#7a7a7a"]
HAS_YTITLE = [True, False, True, False, True, False, True]

FONT = "Liberation Sans, Arial, Helvetica, sans-serif"
SD = "<span style='font-size:32px'>SD</span>"

fig = go.Figure()
annotations = []
layout_axes = {}

for i, key in enumerate(PANELS):
    n = i + 1
    xa = "x" if n == 1 else f"x{n}"
    ya = "y" if n == 1 else f"y{n}"
    l, r, t, b = BOX[i]
    pts = POINTS[i]
    xs = [p[0] for p in pts]
    ys = [p[1] for p in pts]

    for yv, col, dash, lw in [(UPPER[i], UP_COL[i], "30px,14px", 6), (LOWER[i], LO_COL[i], "30px,14px", 6),
                              (MEANS[i], MEAN_COL[i], "solid", 5)]:
        fig.add_trace(go.Scatter(x=[0, 30], y=[yv, yv], mode="lines", xaxis=xa, yaxis=ya,
                                 line=dict(color=col, width=lw, dash=dash), showlegend=False,
                                 hoverinfo="skip", cliponaxis=False))
    fig.add_trace(go.Scatter(x=xs, y=ys, mode="markers", xaxis=xa, yaxis=ya, showlegend=False,
                             marker=dict(symbol="diamond", size=18, color="#000000", line=dict(width=0)),
                             cliponaxis=False))

    axis_common = dict(showgrid=False, zeroline=False, showline=True, linecolor="#000000", linewidth=6,
                       ticks="inside", ticklen=14, tickwidth=4, tickcolor="#000000",
                       tickfont=dict(family=FONT, size=52, color="#000000"))
    layout_axes["xaxis" if n == 1 else f"xaxis{n}"] = dict(
        axis_common, domain=[l / W, r / W], range=[0, 30], anchor=ya,
        tickvals=X_TICKS, ticktext=X_TICKTEXT, ticklabelstandoff=14)
    layout_axes["yaxis" if n == 1 else f"yaxis{n}"] = dict(
        axis_common, domain=[1 - b / H, 1 - t / H], range=[-8, 8], anchor=xa,
        tickvals=Y_TICKS, ticktext=(Y_TICKTEXT_E if key == "e" else Y_TICKTEXT), ticklabelstandoff=18)

    ay = ANN_Y[i]
    xr = TEXT_RIGHT[i] / W
    texts = [f"Mean + 1\u00b796 {SD}", UP_TXT[i], MEAN_TXT[i], f"{LO_LABEL[i]} {SD}", LO_TXT[i]]
    for txt, yy in zip(texts, ay):
        annotations.append(dict(text=txt, x=xr, xref="paper", y=yy, yref=ya, xanchor="right",
                                yanchor="middle", showarrow=False,
                                font=dict(family=FONT, size=48, color="#000000")))
    # panel label
    lx, ly = LABEL_POS[i]
    annotations.append(dict(text=f"({key})", x=lx / W, y=1 - ly / H, xref="paper", yref="paper",
                            xanchor="center", yanchor="middle", showarrow=False,
                            font=dict(family=FONT, size=54, color="#000000")))
    # x title
    annotations.append(dict(text="(Predicted + measured weight)/2 (kg)", x=(l + r) / 2 / W,
                            y=1 - (b + 150) / H, xref="paper", yref="paper", xanchor="center",
                            yanchor="middle", showarrow=False,
                            font=dict(family=FONT, size=56, color="#000000")))
    if HAS_YTITLE[i]:
        annotations.append(dict(text="Predicted \u2013 measured<br>weight (kg)", x=(l - 255) / W,
                                y=1 - (t + b) / 2 / H, xref="paper", yref="paper", xanchor="center",
                                yanchor="middle", textangle=-90, showarrow=False,
                                font=dict(family=FONT, size=58, color="#000000")))

fig.update_layout(width=W, height=H, margin=dict(l=0, r=0, t=0, b=0, pad=0),
                  paper_bgcolor="#ffffff", plot_bgcolor="#ffffff", showlegend=False,
                  annotations=annotations, font=dict(family=FONT, color="#000000"), **layout_axes)

fig.write_html("out.html")
